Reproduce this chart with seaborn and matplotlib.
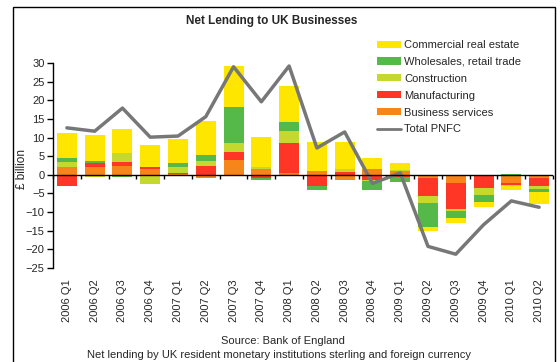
import numpy as np
import matplotlib
matplotlib.use("Agg")
import matplotlib.pyplot as plt
from matplotlib.patches import Rectangle, Patch
from matplotlib.lines import Line2D
import seaborn as sns

quarters = ["2006 Q1", "2006 Q2", "2006 Q3", "2006 Q4",
            "2007 Q1", "2007 Q2", "2007 Q3", "2007 Q4",
            "2008 Q1", "2008 Q2", "2008 Q3", "2008 Q4",
            "2009 Q1", "2009 Q2", "2009 Q3", "2009 Q4",
            "2010 Q1", "2010 Q2"]

business_services = [2.0, 2.0, 2.4, 1.6, 0.3, -0.8, 4.0, 1.6, 0.5, 1.1, -1.3, 1.6,
                     0.9, -0.8, -2.1, 0.0, -2.1, -0.8]
manufacturing = [-3.1, 1.1, 1.1, 0.5, 0.2, 2.4, 2.1, -0.8, 8.0, -2.9, 0.8, -1.3,
                 -0.6, -4.8, -7.0, -3.5, -0.5, -2.1]
construction = [1.5, -0.7, 2.4, -2.4, 1.6, 1.3, 2.4, 0.5, 3.2, 0.0, 0.8, -0.3,
                0.3, -1.9, -0.5, -1.9, -0.4, -0.8]
wholesale_retail = [1.1, 0.7, -0.5, 0.0, 1.1, 1.6, 9.6, -0.5, 2.4, -1.1, 0.0, -2.4,
                    -1.2, -6.4, -2.1, -1.9, 0.3, -0.8]
commercial_real_estate = [6.6, 7.0, 6.4, 5.9, 6.4, 9.1, 11.0, 8.0, 9.6, 7.8, 7.2, 2.9,
                          1.9, -1.25, -1.1, -1.3, -1.1, -3.2]
total_pnfc = [12.6, 11.7, 17.9, 10.1, 10.4, 15.6, 29.0, 19.6, 29.2, 7.2, 11.5, -2.3,
              0.5, -19.2, -21.3, -13.4, -7.0, -8.7]

series_names = ["Business services", "Manufacturing", "Construction",
                "Wholesales, retail trade", "Commercial real estate"]
series_values = [business_services, manufacturing, construction,
                 wholesale_retail, commercial_real_estate]
series_colors = ["#F7851A", "#FF3526", "#C4D82E", "#55B94A", "#FFE600"]
line_label = "Total PNFC"
line_color = "#777777"

sns.set_style("ticks")
plt.rcParams["font.family"] = ["Liberation Sans", "DejaVu Sans"]

W, H = 560, 362
fig = plt.figure(figsize=(W / 100, H / 100), dpi=100)
ax = fig.add_axes([53 / W, 1 - 268 / H, 500 / W, 205 / H])

n = len(quarters)
pos_base = np.zeros(n)
neg_base = np.zeros(n)
for name, vals, col in zip(series_names, series_values, series_colors):
    v = np.asarray(vals, dtype=float)
    bottom = np.where(v >= 0, pos_base, neg_base)
    sns.barplot(x=quarters, y=v, order=quarters, color=col, saturation=1,
                width=0.72, bottom=bottom, linewidth=0, errorbar=None, ax=ax)
    pos_base += np.where(v > 0, v, 0)
    neg_base += np.where(v < 0, v, 0)

sns.lineplot(x=np.arange(n), y=total_pnfc, color=line_color, lw=2.5, ax=ax,
             sort=False)

ax.set_xlim(-0.5, n - 0.5)
ax.set_ylim(-25, 30)
ax.set_yticks(range(-25, 31, 5))
ax.set_xticks(range(n))
ax.set_xticklabels(quarters, rotation=90, fontsize=8)
ax.tick_params(axis="x", length=0, pad=8)
ax.tick_params(axis="y", length=4, width=1, labelsize=8, color="black", pad=2)
for s in ["top", "right", "bottom"]:
    ax.spines[s].set_visible(False)
ax.spines["left"].set_color("black")
ax.spines["left"].set_linewidth(1)
ax.set_xlabel("")
ax.set_ylabel("£ billion", fontsize=8.5)
ax.yaxis.set_label_coords((28 - 53) / 500, 0.485)

ax.axhline(0, color="black", lw=1, zorder=5)
sec = ax.secondary_xaxis(25 / 55)
sec.set_alignment("bottom")
sec.set_xticks(np.arange(n + 1) - 0.5)
sec.tick_params(axis="x", length=3, width=1, color="black", labelbottom=False,
                direction="out")
sec.spines["bottom"].set_visible(False)

handles = [Patch(facecolor=c, edgecolor="none") for c in series_colors][::-1]
labels = series_names[::-1]
handles.append(Line2D([], [], color=line_color, lw=2))
labels.append(line_label)
fig.legend(handles, labels, loc="upper left",
           bbox_to_anchor=(377 / W, 1 - 40 / H), frameon=False, fontsize=8,
           borderpad=0, borderaxespad=0, handlelength=2.2, handleheight=0.6,
           handletextpad=0.25, labelspacing=0.62)

fig.text(272 / W, 1 - 21 / H, "Net Lending to UK Businesses", fontsize=8.5,
         fontweight="bold", ha="center", va="center")
fig.text(283 / W, 1 - 341 / H, "Source: Bank of England", fontsize=8,
         ha="center", va="center")
fig.text(279 / W, 1 - 355 / H,
         "Net lending by UK resident monetary institutions sterling and foreign currency",
         fontsize=8, ha="center", va="center")

fig.patches.append(Rectangle((13 / W, -0.2), (555 - 13) / W, 1.2 - 7 / H,
                             transform=fig.transFigure, fill=False,
                             edgecolor="black", lw=1))

fig.savefig("out.png", dpi=100)
